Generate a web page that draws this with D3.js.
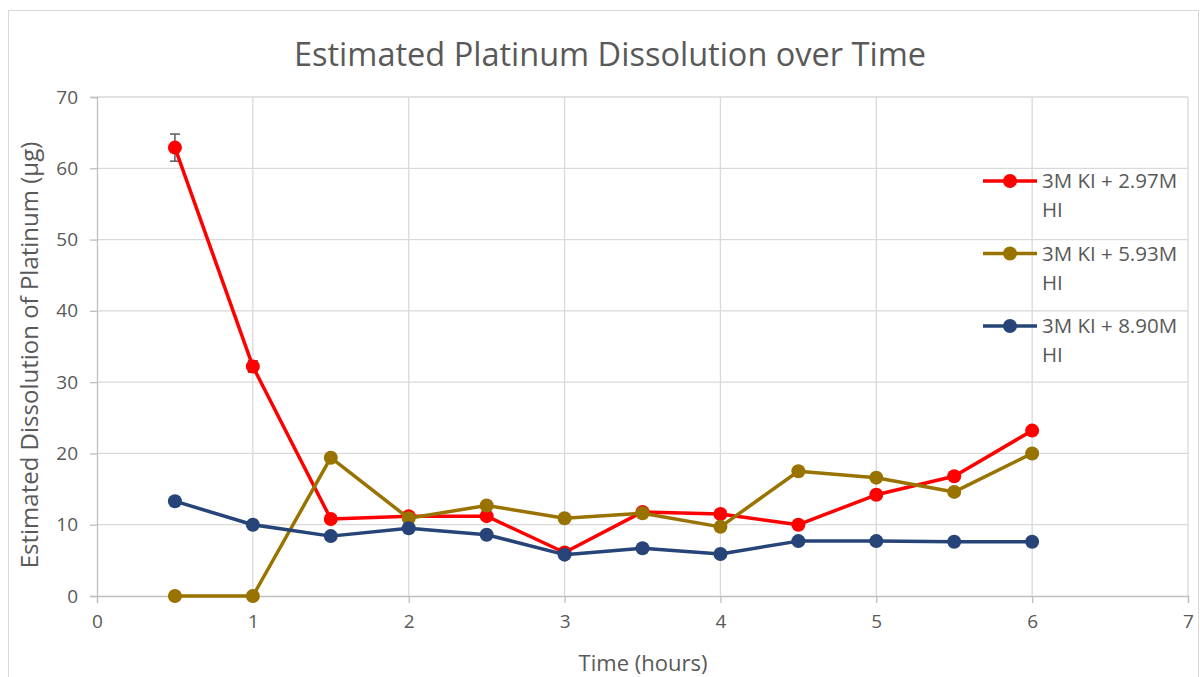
<!DOCTYPE html>
<html><head><meta charset="utf-8">
<script src="https://cdn.jsdelivr.net/npm/d3@7"></script>
<style>body{margin:0;background:#fff}svg{display:block}text{font-family:"Open Sans",sans-serif}</style>
</head><body><svg id="c" width="1200" height="677"></svg>
<script>
const times = [0.5,1,1.5,2,2.5,3,3.5,4,4.5,5,5.5,6];
const seriesNames = ["3M KI + 2.97M HI","3M KI + 5.93M HI","3M KI + 8.90M HI"];
const red = [62.9,32.2,10.8,11.2,11.2,6.1,11.8,11.5,10.0,14.2,16.8,23.2];
const gold = [0,0,19.4,10.9,12.7,10.9,11.6,9.7,17.5,16.6,14.6,20.0];
const blue = [13.3,10.0,8.4,9.5,8.6,5.8,6.7,5.9,7.7,7.7,7.6,7.6];
const redErr = [1.9,0.8,0,0,0,0,0,0,0,0,0,0];
const colors = ["#FF0000","#997300","#264478"];
const xTicks = [0,1,2,3,4,5,6,7];
const yTicks = [0,10,20,30,40,50,60,70];

const svg = d3.select("#c");
svg.append("rect").attr("x",8.5).attr("y",10.5).attr("width",1190).attr("height",680).attr("fill","none").attr("stroke","#d9d9d9");
const x = d3.scaleLinear().domain([0,7]).range([97,1188]);
const y = d3.scaleLinear().domain([0,70]).range([596,97]);

// grid
svg.append("g").selectAll("line").data(yTicks.slice(1)).join("line")
  .attr("x1",x(0)).attr("x2",x(7)).attr("y1",d=>y(d)).attr("y2",d=>y(d)).attr("stroke","#d9d9d9").attr("stroke-width",1.3);
svg.append("g").selectAll("line").data(xTicks.slice(1)).join("line")
  .attr("x1",d=>x(d)).attr("x2",d=>x(d)).attr("y1",y(0)).attr("y2",y(70)).attr("stroke","#d9d9d9").attr("stroke-width",1.3);

const xa = svg.append("g").attr("transform",`translate(0,${y(0)})`).call(d3.axisBottom(x).tickValues(xTicks).tickSize(7).tickPadding(12).tickFormat(d3.format("d")));
const ya = svg.append("g").attr("transform",`translate(${x(0)},0)`).call(d3.axisLeft(y).tickValues(yTicks).tickSize(7).tickPadding(12).tickFormat(d3.format("d")));
[xa,ya].forEach(a=>{a.select(".domain").attr("stroke","#bfbfbf").attr("stroke-width",1.3);
  a.selectAll(".tick line").attr("stroke","#bfbfbf").attr("stroke-width",1.3);
  a.selectAll(".tick text").attr("fill","#595959").style("font-size","19px");});

// title & labels
svg.append("text").attr("x",610).attr("y",66).attr("text-anchor","middle").attr("fill","#595959").style("font-size","32.5px").text("Estimated Platinum Dissolution over Time");
svg.append("text").attr("x",643).attr("y",671).attr("text-anchor","middle").attr("fill","#595959").style("font-size","22px").text("Time (hours)");
svg.append("text").attr("transform","translate(38,355) rotate(-90)").attr("text-anchor","middle").attr("fill","#595959").style("font-size","24px").text("Estimated Dissolution of Platinum (µg)");

const data = [red,gold,blue];
const line = d3.line().x((d,i)=>x(times[i])).y(d=>y(d));
// error bars
const eg = svg.append("g");
times.forEach((t,i)=>{ if(redErr[i]>0){
  eg.append("line").attr("x1",x(t)).attr("x2",x(t)).attr("y1",y(red[i]+redErr[i])).attr("y2",y(red[i]-redErr[i])).attr("stroke","#595959").attr("stroke-width",1.5);
  [red[i]+redErr[i],red[i]-redErr[i]].forEach(v=>eg.append("line").attr("x1",x(t)-5).attr("x2",x(t)+5).attr("y1",y(v)).attr("y2",y(v)).attr("stroke","#595959").attr("stroke-width",1.5));
}});
data.forEach((s,k)=>{
  svg.append("path").datum(s).attr("d",line).attr("fill","none").attr("stroke",colors[k]).attr("stroke-width",3.5).attr("stroke-linejoin","round");
  svg.append("g").selectAll("circle").data(s).join("circle").attr("cx",(d,i)=>x(times[i])).attr("cy",d=>y(d)).attr("r",7).attr("fill",colors[k]);
});
// legend
seriesNames.forEach((n,k)=>{
  const ly = 181 + k*72.5;
  const g = svg.append("g");
  g.append("line").attr("x1",983).attr("x2",1037).attr("y1",ly).attr("y2",ly).attr("stroke",colors[k]).attr("stroke-width",3.5);
  g.append("circle").attr("cx",1010).attr("cy",ly).attr("r",7).attr("fill",colors[k]);
  const parts = n.split(" HI");
  g.append("text").attr("x",1042).attr("y",ly+7).attr("fill","#595959").style("font-size","20.5px").text(parts[0]);
  g.append("text").attr("x",1042).attr("y",ly+36).attr("fill","#595959").style("font-size","20.5px").text("HI");
});
</script></body></html>
